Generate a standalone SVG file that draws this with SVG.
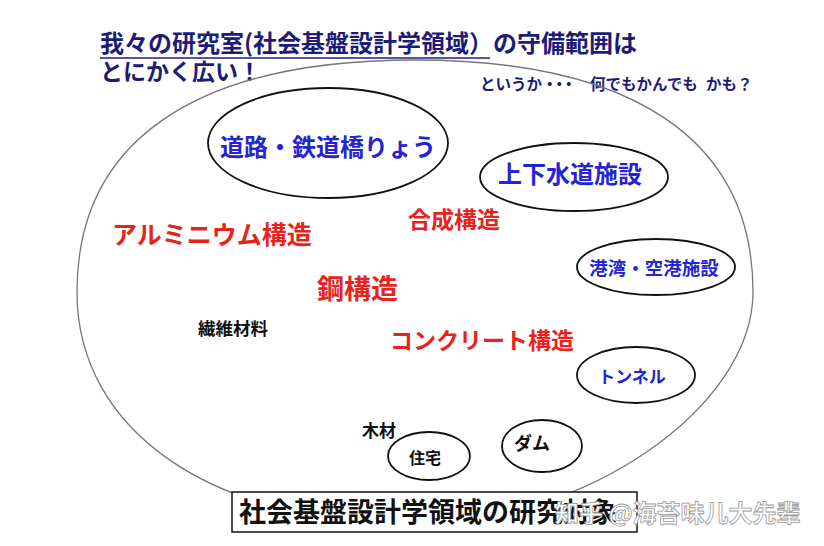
<svg xmlns="http://www.w3.org/2000/svg" width="824" height="546" viewBox="0 0 824 546">
<style>
text{font-family:"Noto Sans CJK JP","Noto Sans",sans-serif;font-weight:700}
.navy{fill:#1c1c78}
.blue{fill:#2424d4}
.red{fill:#e8231e}
.blk{fill:#111}
.oval{fill:none;stroke:#111;stroke-width:1.8}
</style>
<rect width="824" height="546" fill="#fff"/>
<g id="title">
<text class="navy" x="100" y="52" font-size="24">我々の研究室(社会基盤設計学領域）の守備範囲は</text>
<line x1="100" y1="58" x2="490" y2="58" stroke="#1c1c78" stroke-width="1.5"/>
<text class="navy" x="100" y="80" font-size="23">とにかく広い！</text>
<text class="navy" x="480" y="90" font-size="15.5">というか<tspan letter-spacing="-6">・・・</tspan></text>
<text class="navy" x="590" y="90" font-size="15.5">何でもかんでも</text>
<text class="navy" x="706" y="90" font-size="15.5">かも？</text>
</g>
<g id="domain">
<path d="M77 292 C77 141 195 60 415 60 C635 60 753 141 753 292 C753 408 584 524 415 524 C212 524 77 431 77 292 Z" fill="none" stroke="#777" stroke-width="1.3"/>
</g>
<g id="road">
<ellipse class="oval" cx="328" cy="143" rx="120" ry="55"/>
<text class="blue" x="328" y="156" font-size="24" text-anchor="middle">道路・鉄道橋りょう</text>
</g>
<g id="sewer">
<ellipse class="oval" cx="574" cy="177" rx="94" ry="34"/>
<text class="blue" x="570" y="183" font-size="24" text-anchor="middle">上下水道施設</text>
</g>
<g id="port">
<ellipse class="oval" cx="656" cy="267" rx="79" ry="28"/>
<text class="blue" x="654" y="275" font-size="18.5" text-anchor="middle">港湾・空港施設</text>
</g>
<g id="tunnel">
<ellipse class="oval" cx="636" cy="375" rx="59" ry="28"/>
<text class="blue" x="632" y="383" font-size="17" text-anchor="middle">トンネル</text>
</g>
<g id="house">
<ellipse class="oval" cx="429" cy="456" rx="41" ry="24"/>
<text class="blk" x="425" y="464" font-size="16" text-anchor="middle">住宅</text>
</g>
<g id="dam">
<ellipse class="oval" cx="542" cy="446" rx="40" ry="26"/>
<text class="blk" x="532" y="450" font-size="18" text-anchor="middle">ダム</text>
</g>
<g id="wood"><text class="blk" x="362" y="437" font-size="17">木材</text></g>
<g id="fiber"><text class="blk" x="198" y="335" font-size="17.5">繊維材料</text></g>
<g id="aluminium"><text class="red" x="112" y="244" font-size="25">アルミニウム構造</text></g>
<g id="composite"><text class="red" x="408" y="228" font-size="23">合成構造</text></g>
<g id="steel"><text class="red" x="317" y="299" font-size="27">鋼構造</text></g>
<g id="concrete"><text class="red" x="390" y="349" font-size="23">コンクリート構造</text></g>
<g id="caption">
<rect x="232" y="492" width="405" height="40" fill="#fff" stroke="#111" stroke-width="1.5"/>
<text class="blk" x="239" y="522" font-size="27">社会基盤設計学領域の研究対象</text>
</g>
<g id="watermark">
<text x="555" y="522" font-size="24" fill="#fff" stroke="#999" stroke-width="0.8" font-weight="400">知乎 @海苔味儿大先辈</text>
</g>
</svg>
